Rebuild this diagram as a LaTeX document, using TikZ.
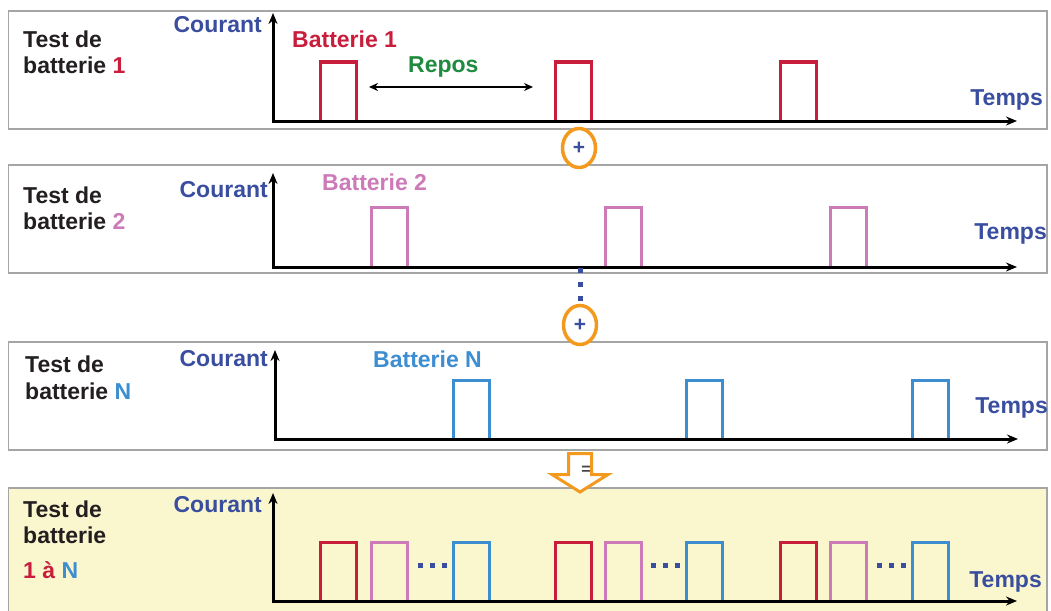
\documentclass[tikz,border=0pt]{standalone}
\usepackage{fontspec}
\setmainfont{Liberation Sans}
\usetikzlibrary{arrows.meta,shapes.geometric}
\definecolor{cred}{RGB}{200,30,60}
\definecolor{cpink}{RGB}{204,122,184}
\definecolor{cblue}{RGB}{60,142,208}
\definecolor{ctblue}{RGB}{58,78,160}
\definecolor{cgreen}{RGB}{30,139,62}
\definecolor{corange}{RGB}{243,154,30}
\definecolor{cyellow}{RGB}{250,247,206}
\definecolor{cgray}{RGB}{165,165,165}
\definecolor{cblack}{RGB}{35,31,32}
\begin{document}
\begin{tikzpicture}[x=1pt,y=-1pt,
  panel/.style={draw=cgray, line width=1.5pt},
  axisline/.style={line width=3pt, line join=miter, {Stealth[length=11pt,width=9pt]}-{Stealth[length=11pt,width=9pt]}},
  pulse/.style={line width=3pt, line join=miter},
  txt/.style={inner sep=0pt, font=\fontsize{23}{26}\selectfont\bfseries},
  lbl/.style={txt, text=cblack, anchor=base west},
  axlbl/.style={txt, text=ctblue},
  plus/.style={ellipse, draw=corange, line width=3.5pt, fill=white, minimum width=33pt, minimum height=39pt, inner sep=0pt, text=ctblue, font=\fontsize{21}{22}\selectfont\bfseries},
  sqdot/.style={fill=ctblue}
]
\clip (0,0) rectangle (1051,610);
\fill[white] (0,0) rectangle (1051,610);

% ---------- Panel 1 ----------
\draw[panel] (8.5,11) rectangle (1047,129);
\node[lbl] (t1a) at (23,48) {Test de};
\node[lbl] (t1b) at (23,74) {batterie \textcolor{cred}{1}};
\node[axlbl, anchor=base east] (c1) at (262,33) {Courant};
\node[txt, text=cred, anchor=base west] (b1) at (292,48) {Batterie 1};
\node[txt, text=cgreen, anchor=base west] (rep) at (408,73) {Repos};
\node[axlbl, anchor=base east] (tp1) at (1043,105) {Temps};
\foreach \x in {320,555,780}
  \draw[pulse, cred] (\x,121) -- (\x,62) -- (\x+36,62) -- (\x+36,121);
\coordinate (o1) at (273,121);
\coordinate (y1) at (273,13);
\coordinate (x1) at (1017,121);
\draw[axisline] (y1) -- (o1) -- (x1);
\coordinate (ra) at (369,87);
\coordinate (rb) at (533,87);
\draw[line width=1.5pt, {Stealth[length=9pt,width=8pt]}-{Stealth[length=9pt,width=8pt]}] (ra) -- (rb);

% ---------- Panel 2 ----------
\draw[panel] (8.5,165) rectangle (1047,273);
\node[lbl] (t2a) at (23,203) {Test de};
\node[lbl] (t2b) at (23,229) {batterie \textcolor{cpink}{2}};
\node[axlbl, anchor=base east] (c2) at (268,197) {Courant};
\node[txt, text=cpink, anchor=base west] (b2) at (322,190) {Batterie 2};
\node[axlbl, anchor=base east] (tp2) at (1047,239) {Temps};
\foreach \x in {371,605,830}
  \draw[pulse, cpink] (\x,267) -- (\x,207) -- (\x+36,207) -- (\x+36,267);
\coordinate (o2) at (273,267);
\coordinate (y2) at (273,173);
\coordinate (x2) at (1017,267);
\draw[axisline] (y2) -- (o2) -- (x2);

% ---------- Panel 3 ----------
\draw[panel] (8.5,342) rectangle (1047,450);
\node[lbl] (t3a) at (25,372) {Test de};
\node[lbl] (t3b) at (25,399) {batterie \textcolor{cblue}{N}};
\node[axlbl, anchor=base east] (c3) at (268,366) {Courant};
\node[txt, text=cblue, anchor=base west] (b3) at (373,367) {Batterie N};
\node[axlbl, anchor=base east] (tp3) at (1048,413) {Temps};
\foreach \x in {453,686,912}
  \draw[pulse, cblue] (\x,439) -- (\x,380) -- (\x+36,380) -- (\x+36,439);
\coordinate (o3) at (275,439);
\coordinate (y3) at (275,350);
\coordinate (x3) at (1018,439);
\draw[axisline] (y3) -- (o3) -- (x3);

% ---------- Panel 4 ----------
\draw[panel, fill=cyellow] (8.5,488) rectangle (1047,625);
\node[lbl] (t4a) at (23,517) {Test de};
\node[lbl] (t4b) at (23,543) {batterie};
\node[lbl] (t4c) at (23,578) {\textcolor{cred}{1 à} \textcolor{cblue}{N}};
\node[axlbl, anchor=base east] (c4) at (262,512) {Courant};
\node[axlbl, anchor=base east] (tp4) at (1042,587) {Temps};
\foreach \x in {320,555,780}
  \draw[pulse, cred] (\x,601) -- (\x,542) -- (\x+36,542) -- (\x+36,601);
\foreach \x in {371,605,830}
  \draw[pulse, cpink] (\x,601) -- (\x,542) -- (\x+36,542) -- (\x+36,601);
\foreach \x in {453,686,912}{
  \draw[pulse, cblue] (\x,601) -- (\x,542) -- (\x+36,542) -- (\x+36,601);
  \foreach \d in {33,21,9}
    \fill[sqdot] (\x-\d-2.5,563) rectangle (\x-\d+2.5,568);
}
\coordinate (o4) at (273,601);
\coordinate (y4) at (273,493);
\coordinate (x4) at (1017,601);
\draw[axisline] (y4) -- (o4) -- (x4);

% ---------- connectors between panels ----------
\node[plus] (p1) at (579,148) {+};
\foreach \y in {270.5,284.5,298.5}
  \fill[sqdot] (578,\y-2.5) rectangle (583,\y+2.5);
\node[plus] (p2) at (580,325) {+};

\draw[corange, line width=3pt, fill=white, line join=miter]
  (568.5,453.5) -- (591.5,453.5) -- (591.5,474.5) -- (608,474.5)
  -- (580,492) -- (552,474.5) -- (568.5,474.5) -- cycle;
\node[inner sep=0pt, text=cblack!85, font=\fontsize{16}{18}\selectfont\bfseries] (eq) at (586,470) {=};
\end{tikzpicture}
\end{document}
